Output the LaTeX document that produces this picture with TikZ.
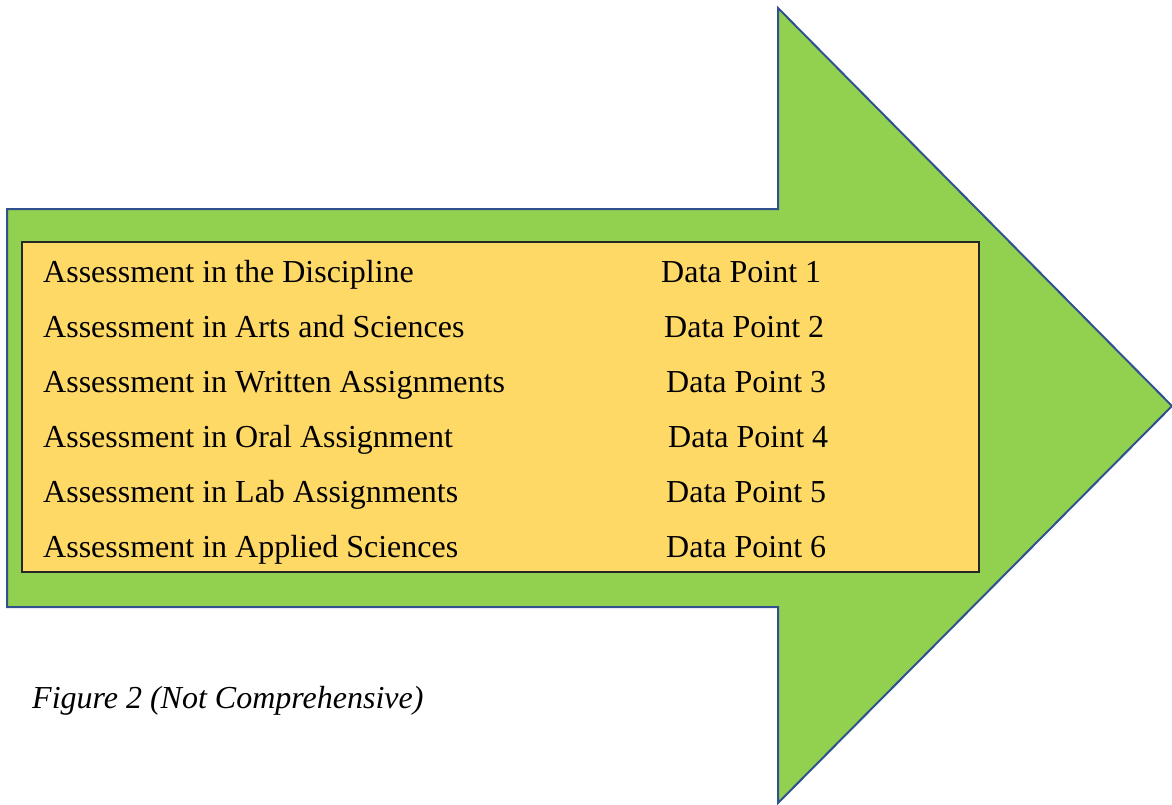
\documentclass[tikz,border=0pt]{standalone}
\usepackage{fontspec}
\setmainfont{Liberation Serif}
\usepackage{tikz}
\usetikzlibrary{positioning}

\definecolor{arrowgreen}{HTML}{92D050}
\definecolor{arrowblue}{HTML}{2F528F}
\definecolor{listgold}{HTML}{FFD966}

\tikzset{
    item/.style={anchor=base west, inner sep=0pt, font=\fontsize{32}{38}\selectfont},
    caption/.style={anchor=base west, inner sep=0pt, font=\fontsize{32}{38}\selectfont\itshape}
}

\begin{document}
\begin{tikzpicture}[x=1pt, y=-1pt]
    \useasboundingbox (0,0) rectangle (1172,804);

    % big block arrow
    \draw[fill=arrowgreen, draw=arrowblue, line width=2pt, line join=miter]
        (7,209) -- (778,209) -- (778,8) -- (1172,406) -- (778,803) -- (778,607) -- (7,607) -- cycle;

    % list box
    \draw[fill=listgold, draw=black!85, line width=1.5pt] (22,242) rectangle (979,572);

    \node[item] (a1) at (43,282) {Assessment in the Discipline};
    \node[item] (a2) at (43,337) {Assessment in Arts and Sciences};
    \node[item] (a3) at (43,392) {Assessment in Written Assignments};
    \node[item] (a4) at (43,447) {Assessment in Oral Assignment};
    \node[item] (a5) at (43,502) {Assessment in Lab Assignments};
    \node[item] (a6) at (43,557) {Assessment in Applied Sciences};

    \node[item] (d1) at (661,282) {Data Point 1};
    \node[item] (d2) at (664,337) {Data Point 2};
    \node[item] (d3) at (666,392) {Data Point 3};
    \node[item] (d4) at (668,447) {Data Point 4};
    \node[item] (d5) at (666,502) {Data Point 5};
    \node[item] (d6) at (666,557) {Data Point 6};

    \node[caption] (fig) at (32,708) {Figure 2 (Not Comprehensive)};
\end{tikzpicture}
\end{document}
